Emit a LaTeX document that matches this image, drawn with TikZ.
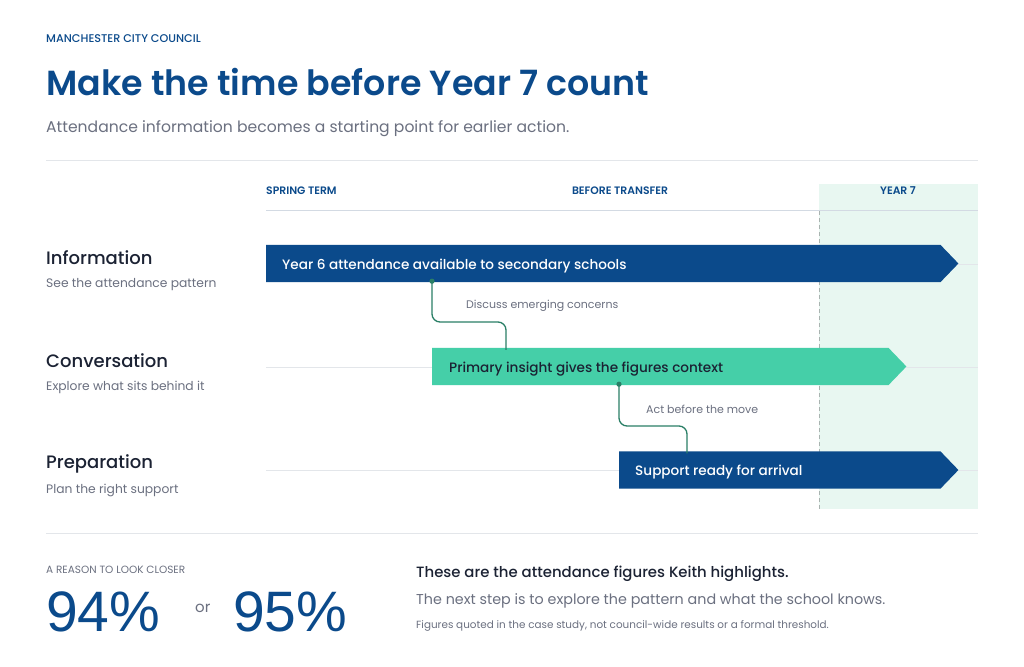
\documentclass[tikz,border=0pt]{standalone}
\usepackage{fontspec}
\setmainfont{Poppins}
\newfontfamily\popmd{Poppins Medium}
\newfontfamily\popsb{Poppins SemiBold}
\newfontfamily\arialf{Liberation Sans}
\definecolor{navy}{HTML}{0B4A8B}
\definecolor{mint}{HTML}{45CFA8}
\definecolor{conncol}{HTML}{2A7F66}
\definecolor{band}{HTML}{E8F7F1}
\definecolor{graytxt}{HTML}{6B7080}
\definecolor{darktxt}{HTML}{1B2233}
\definecolor{rulecol}{HTML}{E3E6EA}
\definecolor{headline}{HTML}{D3DAE3}
\definecolor{dashcol}{HTML}{A9B3B0}
\begin{document}
\begin{tikzpicture}[x=1pt,y=-1pt,
  lbl/.style={inner sep=0pt,anchor=west},
  hdr/.style={lbl,font=\popsb\fontsize{10.8}{12}\selectfont,text=navy},
  rowtitle/.style={lbl,font=\popmd\fontsize{18}{20}\selectfont,text=darktxt},
  rowsub/.style={lbl,font=\fontsize{12.3}{14}\selectfont,text=graytxt},
  barbox/.style={inner sep=0pt,minimum height=37pt,anchor=west},
  bartext/.style={lbl,font=\popmd\fontsize{13.6}{16}\selectfont},
  conn/.style={draw=conncol,line width=1.3pt},
  connlbl/.style={lbl,font=\fontsize{11}{13}\selectfont,text=graytxt},
  rowline/.style={draw=rulecol,line width=1pt},
  bignum/.style={lbl,font=\arialf\fontsize{57}{60}\selectfont,text=navy}
]
\useasboundingbox (0,0) rectangle (1024,666);
\fill[white] (0,0) rectangle (1024,666);

% header
\node[lbl,font=\popmd\fontsize{11.2}{13}\selectfont,text=navy] (org) at (46,38.5) {MANCHESTER CITY COUNCIL};
\node[lbl,font=\popsb\fontsize{34.8}{38}\selectfont,text=navy] (title) at (46,82) {Make the time before Year 7 count};
\node[lbl,font=\fontsize{15.6}{18}\selectfont,text=graytxt] (subtitle) at (46,129) {Attendance information becomes a starting point for earlier action.};
\draw[rowline] (46,160) -- (978,160);

% Year 7 band
\fill[band] (819,184) rectangle (978,509);
\node[hdr] (h1) at (266,191) {SPRING TERM};
\node[hdr,anchor=center] (h2) at (620,191) {BEFORE TRANSFER};
\node[hdr,anchor=center] (h3) at (898,191) {YEAR 7};
\draw[draw=headline,line width=1pt] (266,210) -- (978,210);
\draw[draw=dashcol,line width=0.8pt,dash pattern=on 4pt off 3pt] (819,211) -- (819,509);

% row lines
\draw[rowline] (266,264) -- (978,264);
\draw[rowline] (266,367) -- (978,367);
\draw[rowline] (266,470) -- (978,470);

% row labels
\node[rowtitle] (r1) at (46,258) {Information};
\node[rowsub] (r1s) at (46,284.5) {See the attendance pattern};
\node[rowtitle] (r2) at (46,361) {Conversation};
\node[rowsub] (r2s) at (46,387.5) {Explore what sits behind it};
\node[rowtitle] (r3) at (46,464) {Preparation};
\node[rowsub] (r3s) at (46,490.5) {Plan the right support};

% bars
\node[barbox,minimum width=674pt] (bar1) at (266,263.5) {};
\fill[navy] (bar1.north west) -- (bar1.north east) -- ([xshift=18pt]bar1.east) -- (bar1.south east) -- (bar1.south west) -- cycle;
\node[bartext,text=white] (t1) at (282,266) {Year 6 attendance available to secondary schools};

\node[barbox,minimum width=456pt] (bar2) at (432,366.5) {};
\fill[mint] (bar2.north west) -- (bar2.north east) -- ([xshift=18pt]bar2.east) -- (bar2.south east) -- (bar2.south west) -- cycle;
\node[bartext,text=darktxt] (t2) at (449,369) {Primary insight gives the figures context};

\node[barbox,minimum width=321pt] (bar3) at (619,470) {};
\fill[navy] (bar3.north west) -- (bar3.north east) -- ([xshift=18pt]bar3.east) -- (bar3.south east) -- (bar3.south west) -- cycle;
\node[bartext,text=white] (t3) at (635,472.5) {Support ready for arrival};

% connectors
\coordinate (c1a) at ([xshift=166pt,yshift=1pt]bar1.south west);
\coordinate (c1b) at ([xshift=74pt,yshift=-2pt]bar2.north west);
\draw[conn,rounded corners=8pt] (c1a) -- (c1a |- 0,322) -- (c1b |- 0,322) -- (c1b);
\fill[conncol] (c1a) circle (2.6pt);
\node[connlbl] (l1) at (466,306) {Discuss emerging concerns};

\coordinate (c2a) at ([yshift=1pt]bar2.south west -| bar3.west);
\coordinate (c2b) at ([xshift=68pt,yshift=-2pt]bar3.north west);
\draw[conn,rounded corners=8pt] (c2a) -- (c2a |- 0,426) -- (c2b |- 0,426) -- (c2b);
\fill[conncol] (c2a) circle (2.6pt);
\node[connlbl] (l2) at (646,409) {Act before the move};

% bottom
\draw[rowline] (46,533) -- (978,533);
\node[lbl,font=\fontsize{10.5}{12}\selectfont,text=graytxt] (reason) at (46,569.5) {A REASON TO LOOK CLOSER};
\node[bignum] (n1) at (46,612) {94\%};
\node[lbl,font=\fontsize{15}{17}\selectfont,text=graytxt] (or) at (195,608) {or};
\node[bignum] (n2) at (233,612) {95\%};
\node[lbl,font=\popmd\fontsize{14.9}{17}\selectfont,text=darktxt] (b1) at (416,573.5) {These are the attendance figures Keith highlights.};
\node[lbl,font=\fontsize{14.3}{17}\selectfont,text=graytxt] (b2) at (416,600.5) {The next step is to explore the pattern and what the school knows.};
\node[lbl,font=\fontsize{10.4}{12}\selectfont,text=graytxt] (b3) at (416,626) {Figures quoted in the case study, not council-wide results or a formal threshold.};
\end{tikzpicture}
\end{document}
